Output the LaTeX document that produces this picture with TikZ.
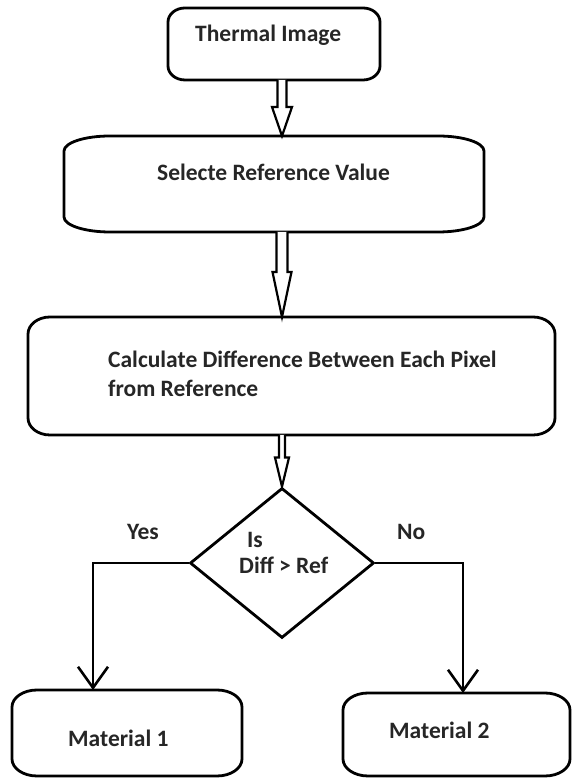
\documentclass[tikz,border=0pt]{standalone}
\usepackage{fontspec}
\setmainfont{Carlito}
\usetikzlibrary{shapes.geometric,arrows.meta,calc}

% outline of a box with elliptical corners around an empty node
\newcommand\ovalframe[3]{%
  \draw[frame] ($(#1.north west)+(#2,0)$) -- ($(#1.north east)+(-#2,0)$)
    arc[start angle=90,end angle=0,x radius=#2,y radius=#3]
    -- ($(#1.south east)+(0,#3)$)
    arc[start angle=0,end angle=-90,x radius=#2,y radius=#3]
    -- ($(#1.south west)+(#2,0)$)
    arc[start angle=270,end angle=180,x radius=#2,y radius=#3]
    -- ($(#1.north west)+(0,-#3)$)
    arc[start angle=180,end angle=90,x radius=#2,y radius=#3]
    -- cycle;}

% hollow block arrow: start, tip, shaft half width, head half width, head length
\newcommand\hollowarrow[5]{%
  \filldraw[hollow] ($(#1)+(-#3,0)$) -- ($(#2)+(-#3,#5)$) -- ($(#2)+(-#4,#5)$)
    -- (#2) -- ($(#2)+(#4,#5)$) -- ($(#2)+(#3,#5)$) -- ($(#1)+(#3,0)$);}

\tikzset{
  boxnode/.style={draw=none, rectangle, inner sep=0pt, outer sep=0pt},
  frame/.style={line width=2.8pt, line join=round},
  hollow/.style={fill=white, draw=black, line width=2.2pt, line join=miter},
  lbl/.style={inner sep=0pt, text=black!85, font=\fontsize{23.5}{27}\selectfont\bfseries},
  flow/.style={line width=2.6pt, -{Straight Barb[length=21pt, width=30pt, line width=2.6pt]}},
}

\begin{document}
\begin{tikzpicture}[x=1pt, y=1pt]
  \fill[white] (0,0) rectangle (572,778);
  \useasboundingbox (0,0) rectangle (572,778);

  % process boxes
  \node[boxnode, minimum width=212pt, minimum height=72pt]  (b1) at (274,734)   {};
  \node[boxnode, minimum width=420pt, minimum height=96pt]  (b2) at (274,594)   {};
  \node[boxnode, minimum width=527pt, minimum height=118pt] (b3) at (291.5,402) {};
  \node[boxnode, minimum width=230pt, minimum height=86pt]  (m1) at (127,45)    {};
  \node[boxnode, minimum width=227pt, minimum height=83pt]  (m2) at (456.5,43.5) {};
  \ovalframe{b1}{17pt}{14pt}
  \ovalframe{b2}{46pt}{15pt}
  \ovalframe{b3}{22pt}{17pt}
  \ovalframe{m1}{25pt}{17pt}
  \ovalframe{m2}{25pt}{17pt}

  % decision
  \node[diamond, draw, line width=2.8pt, inner sep=0pt, minimum width=184pt,
        minimum height=150pt] (dec) at (282,215) {};

  % texts (multi-line nodes sit on the baseline of their last line)
  \node[lbl, anchor=base west] (t1) at (195,736) {Thermal Image};
  \node[lbl, anchor=base west] (t2) at (157,597) {Selecte Reference Value};
  \node[lbl, anchor=base west, align=left,
        font=\fontsize{23.5}{29}\selectfont\bfseries] (t3) at (108,381)
        {Calculate Difference Between Each Pixel\\from Reference};
  \node[lbl, anchor=base west, align=left,
        font=\fontsize{23.5}{26}\selectfont\bfseries] (t4) at (239,204)
        {\hspace*{8pt}Is\\Diff > Ref};
  \node[lbl, anchor=base west] (yes) at (127,238) {Yes};
  \node[lbl, anchor=base west] (no)  at (397,238) {No};
  \node[lbl, anchor=base west] (t5) at (68,31)  {Material 1};
  \node[lbl, anchor=base west] (t6) at (389,39) {Material 2};

  % hollow arrows down the main column
  \coordinate (axis) at (282,0);
  \coordinate (a1s) at (axis |- b1.south);
  \coordinate (a1e) at (axis |- b2.north);
  \coordinate (a2s) at (axis |- b2.south);
  \coordinate (a2e) at (axis |- b3.north);
  \coordinate (a3s) at (axis |- b3.south);
  \coordinate (a3e) at (dec.north);
  \hollowarrow{a1s}{a1e}{4.5pt}{10pt}{29pt}
  \hollowarrow{a2s}{a2e}{5.5pt}{9.5pt}{45pt}
  \hollowarrow{a3s}{a3e}{3pt}{7pt}{29pt}

  % branches
  \coordinate (yesturn) at (93,215);
  \coordinate (noturn)  at (463,215);
  \draw[flow] (dec.west) -- (yesturn) -- (yesturn |- m1.north);
  \draw[flow] (dec.east) -- (noturn) -- (noturn |- m2.north);
\end{tikzpicture}
\end{document}
